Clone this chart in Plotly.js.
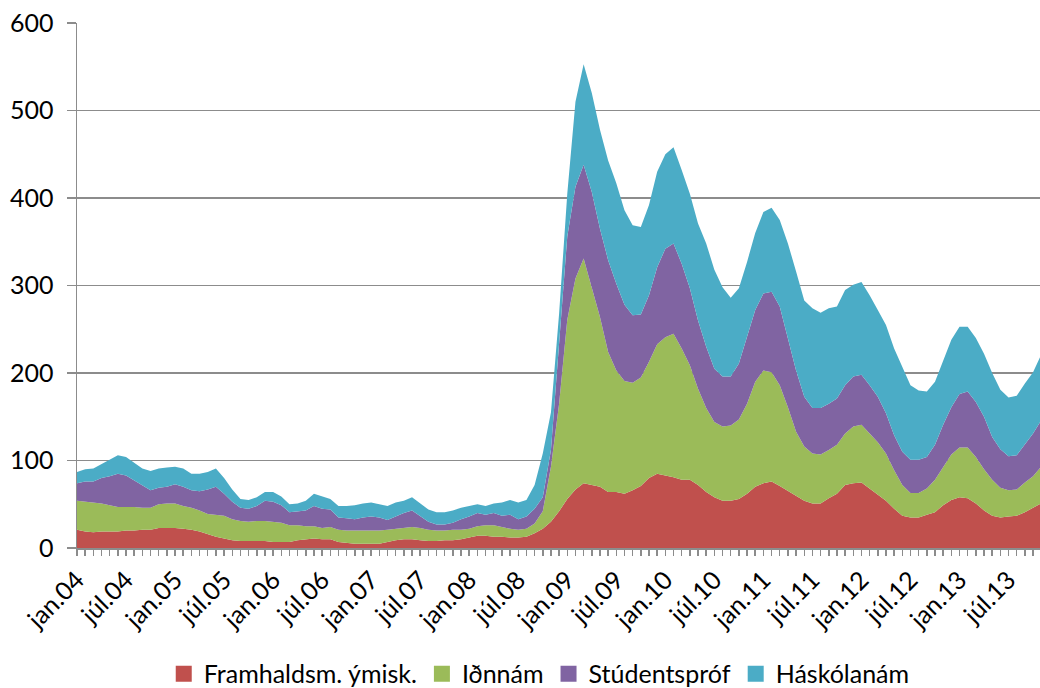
<!DOCTYPE html>
<html>
<head>
<meta charset="utf-8">
<script src="https://cdn.plot.ly/plotly-3.0.1.min.js"></script>
<style>html,body{margin:0;padding:0;background:#fff;}#chart{width:1040px;height:688px;}</style>
</head>
<body>
<div id="chart"></div>
<script>
// Month names (Icelandic) and start year for the monthly categories
var monthNames = ["jan","feb","mar","apr","maí","jún","júl","ágú","sep","okt","nóv","des"];
var startYear = 4;
var nMonths = 119;

// Series values (stacked), one value per month from jan.04
var framhaldsm = [21,19,18,19,19,19,20,20,21,21,23,23,
  23,22,21,19,16,13,11,9,8,8,8,8,
  7,7,7,9,10,11,10,10,7,6,5,5,
  5,5,7,9,10,10,9,8,8,9,9,10,
  12,14,14,13,13,12,12,13,17,22,30,42,
  56,67,74,72,70,64,64,62,66,71,80,85,
  83,81,78,78,72,64,58,54,54,56,62,70,
  74,76,71,65,59,54,51,51,57,62,72,74,
  75,68,62,54,45,37,35,35,38,41,49,55,
  58,57,51,43,37,35,36,37,41,46,51];
var idnnam = [33,34,34,32,30,28,27,27,25,25,27,28,
  28,26,25,24,23,25,26,24,23,22,23,23,
  23,22,19,17,15,14,13,14,14,14,15,15,
  15,15,14,13,13,14,14,13,12,11,12,11,
  10,11,12,13,11,10,9,9,11,20,63,123,
  205,241,257,227,194,160,139,129,123,124,133,148,
  158,164,150,131,110,96,86,85,86,91,103,120,
  129,125,115,96,74,62,57,56,55,56,59,65,
  66,63,59,54,44,35,28,28,30,37,44,52,
  57,58,53,47,41,34,30,30,34,36,42];
var studentsprof = [20,23,24,29,33,38,36,30,25,20,19,19,
  22,22,20,22,28,32,25,20,15,15,17,23,
  23,20,15,16,18,23,22,20,14,14,13,15,
  16,15,11,14,17,19,14,9,7,7,8,12,
  14,15,12,14,13,16,12,14,17,16,19,65,
  95,105,107,108,101,105,99,87,77,72,76,88,
  101,103,97,88,78,70,61,57,56,64,76,82,
  88,92,90,80,70,57,52,53,53,53,55,57,
  57,55,52,46,40,38,38,38,36,40,48,54,
  61,64,63,60,49,44,39,39,43,49,53];
var haskolanam = [13,14,15,16,19,21,21,20,20,22,22,22,
  20,21,19,20,20,21,18,14,10,10,10,10,
  11,10,9,9,11,14,14,12,13,14,16,16,
  16,15,16,16,14,15,14,14,14,14,14,13,
  12,10,10,11,15,17,19,19,27,50,43,38,
  49,97,115,113,113,114,115,108,103,100,103,109,
  108,110,107,108,111,118,113,102,90,86,86,88,
  93,96,99,107,113,110,114,109,109,105,109,105,
  106,103,99,101,99,97,85,79,75,72,74,77,
  77,74,73,72,73,68,67,68,70,70,75];

var seriesNames = ["Framhaldsm. ýmisk.", "Iðnnám", "Stúdentspróf", "Háskólanám"];
var seriesColors = ["#C0504D", "#9BBB59", "#8064A2", "#4BACC6"];
var yTicks = [0,100,200,300,400,500,600];

// Category labels
var categories = [];
var tickText = [];
for (var i = 0; i < nMonths; i++) {
  var m = i % 12;
  var yy = startYear + Math.floor(i / 12);
  var lab = monthNames[m] + "." + (yy < 10 ? "0" + yy : "" + yy);
  categories.push(lab);
  tickText.push(m === 0 || m === 6 ? lab : "");
}

var seriesData = [framhaldsm, idnnam, studentsprof, haskolanam];
var traces = [];
seriesData.forEach(function (vals, k) {
  traces.push({
    type: "scatter", mode: "lines", x: categories, y: vals,
    stackgroup: "one", fillcolor: seriesColors[k],
    line: {width: 0, color: seriesColors[k]},
    name: seriesNames[k], showlegend: false, hoverinfo: "x+y+name"
  });
});
seriesNames.forEach(function (nm, k) {
  traces.push({
    type: "scatter", mode: "markers", x: [null], y: [null],
    name: nm, marker: {symbol: "square", size: 16, color: seriesColors[k]},
    showlegend: true, hoverinfo: "skip"
  });
});

var fontFam = "Lato, 'Open Sans', sans-serif";
var fs = 25;
var grey = "#8c8c8c";
var layout = {
  width: 1040, height: 688,
  margin: {l: 77, r: 0, t: 23, b: 140, autoexpand: false},
  paper_bgcolor: "#fff", plot_bgcolor: "#fff",
  font: {family: fontFam, size: fs, color: "#000"},
  showlegend: true,
  legend: {orientation: "h", x: 0.48, xanchor: "center", y: -0.196, yanchor: "top",
           font: {family: fontFam, size: fs, color: "#000"}, itemwidth: 30,
           traceorder: "normal"},
  xaxis: {
    type: "category", range: [0, 117.85], fixedrange: true, automargin: false,
    tickmode: "array", tickvals: categories, ticktext: tickText,
    tickangle: -45, ticks: "outside", ticklen: 6, tickwidth: 1.5, tickcolor: grey,
    showline: true, linecolor: grey, linewidth: 1.5,
    showgrid: false, zeroline: false,
    tickfont: {family: fontFam, size: fs, color: "#000"}
  },
  yaxis: {
    range: [0, 600], fixedrange: true, automargin: false,
    tickmode: "array", tickvals: yTicks, ticktext: yTicks.map(String),
    ticks: "outside", ticklen: 9, tickwidth: 1.5, tickcolor: grey,
    ticklabelstandoff: 8,
    showline: true, linecolor: grey, linewidth: 1.5,
    showgrid: true, gridcolor: grey, gridwidth: 1.5, zeroline: false,
    tickfont: {family: fontFam, size: fs, color: "#000"}
  }
};

Plotly.newPlot("chart", traces, layout, {displayModeBar: false, staticPlot: true});
</script>
</body>
</html>
